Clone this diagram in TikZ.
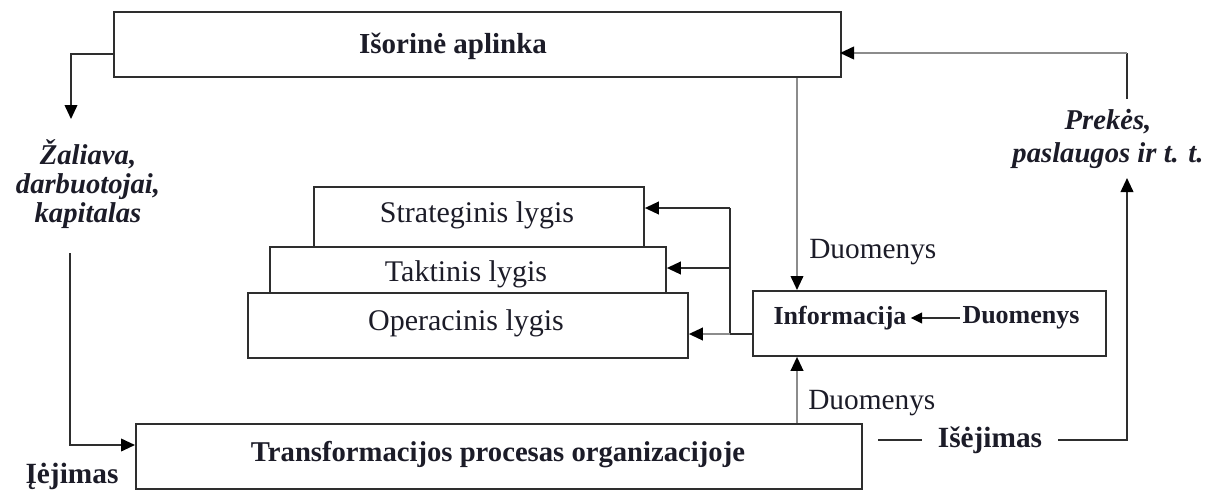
\documentclass[tikz,border=0pt]{standalone}
\usepackage{fontspec}
\setmainfont{Liberation Serif}
\usetikzlibrary{arrows.meta}
\definecolor{linec}{HTML}{2E2E2E}
\definecolor{palec}{HTML}{8C8C8C}
\definecolor{inkc}{HTML}{1C1C28}
\begin{document}
\begin{tikzpicture}[x=0.75pt,y=-0.75pt,
  box/.style={draw=linec, line width=1.4pt, fill=white, inner sep=0pt, anchor=north west},
  conn/.style={draw=linec, line width=1.3pt},
  pale/.style={draw=palec, line width=1.3pt},
  tip/.style={-{Triangle[length=10.5pt,width=9.5pt,color=black]}},
  lbl/.style={text=inkc, inner sep=0pt, font=\fontsize{22.5}{26}\selectfont},
  blbl/.style={text=inkc, inner sep=0pt, font=\fontsize{21.75}{26}\selectfont\bfseries},
  bilbl/.style={text=inkc, inner sep=0pt, align=center, font=\fontsize{21.5}{21.5}\selectfont\bfseries\itshape},
]
\useasboundingbox (0,0) rectangle (1221,490);

% boxes
\node[box, minimum width=545.25pt, minimum height=48.75pt] (env) at (113,11) {};
\node[box, minimum width=247.5pt, minimum height=45pt] (strat) at (313,186) {};
\node[box, minimum width=297pt, minimum height=34.5pt] (tak) at (269,246) {};
\node[box, minimum width=330pt, minimum height=48.75pt] (oper) at (247,292) {};
\node[box, minimum width=264.75pt, minimum height=48.75pt] (info) at (752,290) {};
\node[box, minimum width=544.5pt, minimum height=48.75pt] (proc) at (135,423) {};

% box texts
\node[blbl] (envT) at (453,46) {Išorinė aplinka};
\node[lbl] (stratT) at (477,215) {Strateginis lygis};
\node[lbl] (takT) at (466,274) {Taktinis lygis};
\node[lbl] (operT) at (466,323) {Operacinis lygis};
\node[blbl, font=\fontsize{19.5}{24}\selectfont\bfseries, inner xsep=3pt] (infoT) at (840,318) {Informacija};
\node[blbl, font=\fontsize{19.5}{24}\selectfont\bfseries, inner xsep=2pt] (infoD) at (1021,318) {Duomenys};
\node[blbl, font=\fontsize{21.5}{26}\selectfont\bfseries] (procT) at (498,455) {Transformacijos procesas organizacijoje};

% free labels
\node[bilbl] (inputs) at (88,184) {Žaliava,\\darbuotojai,\\kapitalas};
\node[bilbl, font=\fontsize{21.5}{24.5}\selectfont\bfseries\itshape] (outputs) at (1108,139) {Prekės,\\paslaugos ir t. t.};
\node[lbl, anchor=west, font=\fontsize{22}{26}\selectfont] (dTop) at (809,252) {Duomenys};
\node[lbl, anchor=west, font=\fontsize{22}{26}\selectfont] (dBot) at (808,403) {Duomenys};
\node[blbl, font=\fontsize{22}{26}\selectfont\bfseries, inner xsep=12pt] (outL) at (990,440) {Išėjimas};
\node[blbl, font=\fontsize{22}{26}\selectfont\bfseries] (inL) at (72,476) {Įėjimas};

% connector end points
\coordinate (envL) at (113,54);
\coordinate (inTip) at (71,119);
\coordinate (inTop) at (70,253);
\coordinate (inTurn) at (70,445);
\coordinate (outStart) at (878,440);
\coordinate (outTip) at (1127,178);
\coordinate (outTop) at (1127,99);
\coordinate (envR) at (840,53);
\coordinate (dx) at (797,0);
\coordinate (busS) at (730,208);
\coordinate (busT) at (730,268);
\coordinate (busO) at (730,334);

% resources from the environment into the process
\draw[conn, tip] (envL) -| (inTip);
\draw[conn, tip] (inTop) -- (inTurn) -- (inTurn -| proc.west);

% outputs back to the environment
\draw[conn] (outStart) -- (outL.west);
\draw[conn, tip] (outL.east) -| (outTip);
\draw[conn] (outTop) -- (outTop |- envR);
\draw[pale, tip] (outTop |- envR) -- (envR);

% data flows into the information box
\draw[pale, tip] (env.south -| dx) -- (info.north -| dx);
\draw[pale, tip] (proc.north -| dx) -- (info.south -| dx);
\draw[conn, -{Triangle[length=8.5pt,width=8pt,color=black]}] (infoD.west) -- (infoT.east);

% information to the management levels
\draw[conn] (info.west |- busO) -- (busO) -- (busS);
\draw[pale, tip] (busO) -- (oper.east |- busO);
\draw[conn, tip] (busT) -- (tak.east |- busT);
\draw[conn, tip] (busS) -- (strat.east |- busS);
\end{tikzpicture}
\end{document}
